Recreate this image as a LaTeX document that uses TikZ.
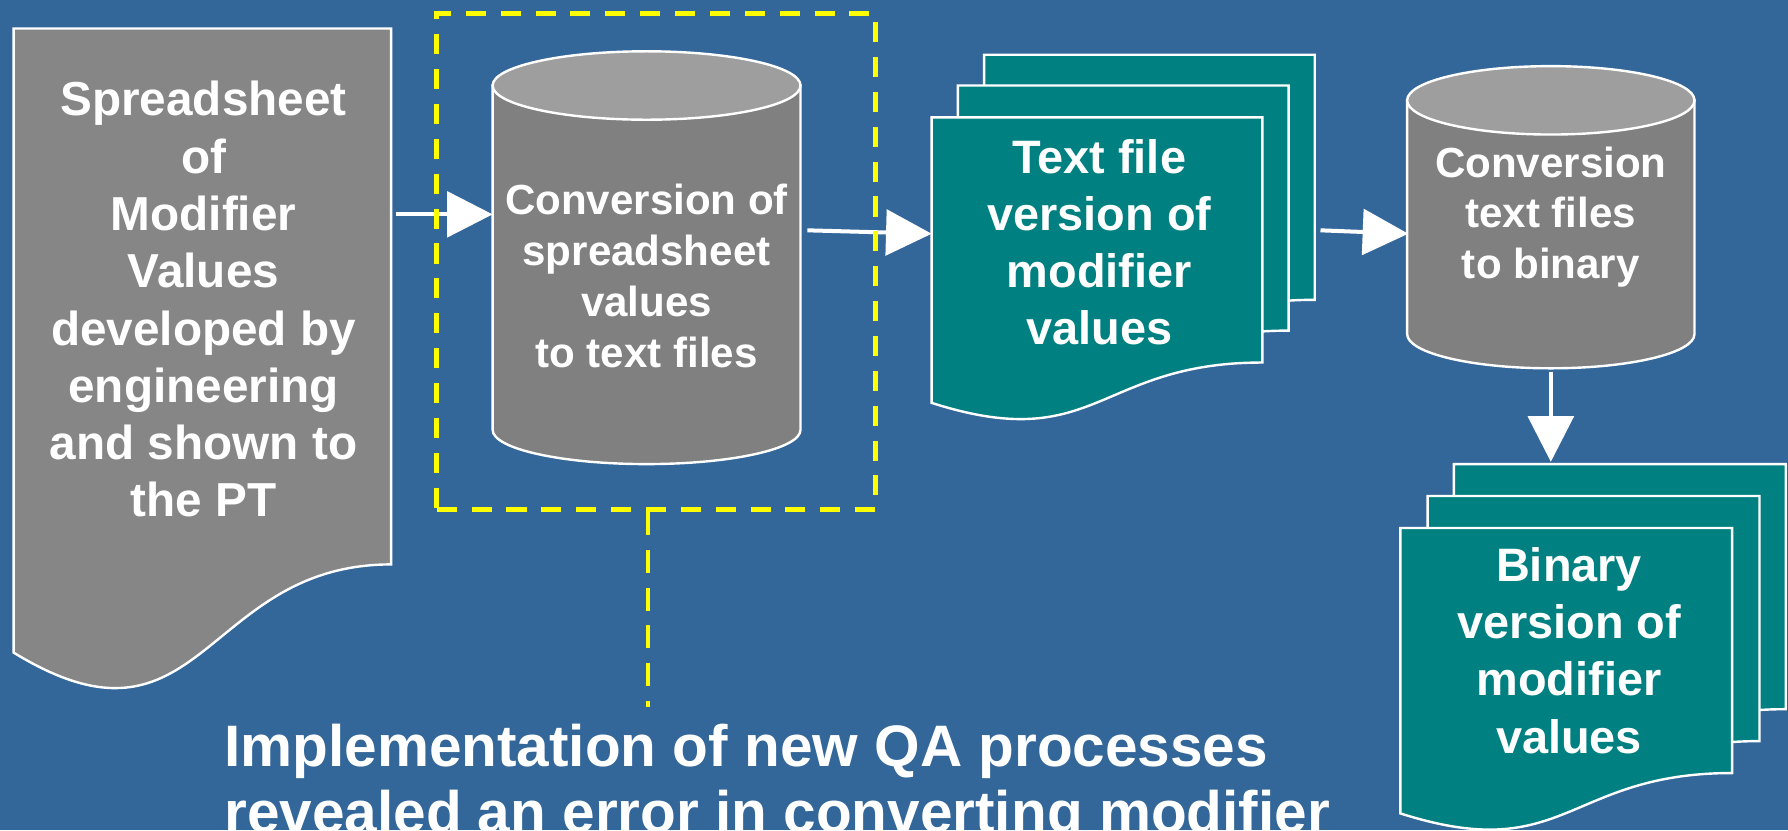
\documentclass[tikz,border=0pt]{standalone}
\usepackage{fontspec}
\setmainfont{Liberation Sans}
\usetikzlibrary{arrows.meta}

\definecolor{slideblue}{RGB}{51,102,153}
\definecolor{sheetgray}{RGB}{134,134,134}
\definecolor{drumgray}{RGB}{128,128,128}
\definecolor{drumtopgray}{RGB}{158,158,158}
\definecolor{fileteal}{RGB}{0,128,128}
\definecolor{qayellow}{RGB}{255,255,0}

% page with a wavy lower edge: style, left x, top y, width, height
\newcommand{\filepage}[5]{%
	\draw[#1] (#2,#3) -- (#2+#4,#3) -- (#2+#4,#3-0.802*#5)
		.. controls (#2+0.5*#4,#3-0.802*#5) and (#2+0.5*#4,#3-1.107*#5) .. (#2,#3-0.934*#5) -- cycle;}

% drum: centre x, half width, top y, bottom y
\newcommand{\drum}[4]{%
	\draw[drumbody] (#1-#2,#3) -- (#1-#2,#4) arc[start angle=180, end angle=360, x radius=#2, y radius=0.3] -- (#1+#2,#3) -- cycle;
	\draw[drumtop] (#1,#3) ellipse[x radius=#2, y radius=0.3];}

\begin{document}
\begin{tikzpicture}[
		flow/.style={draw=white, line width=1pt, -{Triangle[length=4mm, width=4mm]}},
		sheetpage/.style={draw=white, line width=0.6pt, fill=sheetgray},
		tealpage/.style={draw=white, line width=0.6pt, fill=fileteal},
		drumbody/.style={draw=white, line width=0.6pt, fill=drumgray},
		drumtop/.style={draw=white, line width=0.6pt, fill=drumtopgray},
		qabox/.style={draw=qayellow, line width=1.3pt, dash pattern=on 5pt off 3.7pt},
		boxtext/.style={text=white, align=center, inner sep=0pt}
	]
		\useasboundingbox (0,0) rectangle (15.68,7.28);
		\fill[slideblue] (0,0) rectangle (15.68,7.28);

		\filepage{sheetpage}{0.12}{7.03}{3.31}{5.86}
		\node[boxtext, font=\fontsize{11.9}{14.3}\selectfont\bfseries] (sheet) at (1.785,4.655) {Spreadsheet\\of\\Modifier\\Values\\developed by\\engineering\\and shown to\\the PT};

		\drum{5.67}{1.35}{6.53}{3.51}
		\node[boxtext, font=\fontsize{10.5}{12.8}\selectfont\bfseries] (conv1) at (5.67,4.86) {Conversion of\\spreadsheet\\values\\to text files};

		\filepage{tealpage}{8.63}{6.80}{2.90}{2.68}
		\filepage{tealpage}{8.40}{6.53}{2.90}{2.68}
		\filepage{tealpage}{8.17}{6.25}{2.90}{2.68}
		\node[boxtext, font=\fontsize{11.7}{14.2}\selectfont\bfseries] (txtfile) at (9.64,5.155) {Text file\\version of\\modifier\\values};

		\drum{13.60}{1.26}{6.40}{4.35}
		\node[boxtext, font=\fontsize{10.5}{12.6}\selectfont\bfseries] (conv2) at (13.60,5.38) {Conversion\\text files\\to binary};

		\filepage{tealpage}{12.75}{3.21}{2.91}{2.68}
		\filepage{tealpage}{12.52}{2.93}{2.91}{2.68}
		\filepage{tealpage}{12.28}{2.65}{2.91}{2.68}
		\node[boxtext, font=\fontsize{11.7}{14.3}\selectfont\bfseries] (binfile) at (13.76,1.575) {Binary\\version of\\modifier\\values};

		\coordinate (sheet-out) at (3.47,5.40);
		\coordinate (conv1-in) at (4.32,5.40);
		\coordinate (conv1-out) at (7.08,5.26);
		\coordinate (txtfile-in) at (8.17,5.23);
		\coordinate (txtfile-out) at (11.58,5.26);
		\coordinate (conv2-in) at (12.35,5.23);
		\coordinate (conv2-out) at (13.60,4.02);
		\coordinate (binfile-in) at (13.60,3.23);

		\draw[flow] (sheet-out) -- (conv1-in);
		\draw[flow] (conv1-out) -- (txtfile-in);
		\draw[flow] (txtfile-out) -- (conv2-in);
		\draw[flow] (conv2-out) -- (binfile-in);

		\node[qabox, minimum width=3.85cm, minimum height=4.35cm, inner sep=0pt] (qa) at (5.755,4.985) {};
		\draw[qabox, line width=0.9pt, dash pattern=on 5.7pt off 3.7pt] ([xshift=-0.75mm]qa.south) -- ++(0,-1.71);

		\node[text=white, align=left, inner sep=0pt, anchor=north west, font=\fontsize{14.6}{16.5}\selectfont\bfseries] (note) at (1.96,0.94) {Implementation of new QA processes\\revealed an error in converting modifier};
	\end{tikzpicture}
\end{document}
